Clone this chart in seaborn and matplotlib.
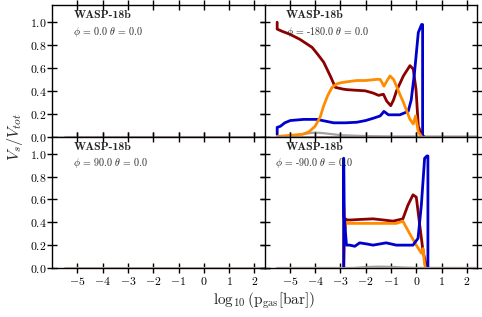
import matplotlib
matplotlib.use('Agg')
import matplotlib.pyplot as plt
import seaborn as sns
from matplotlib.ticker import FuncFormatter

# ---------------------------------------------------------------
# DATA (volume fractions)
# ---------------------------------------------------------------
planet = 'WASP-18b'
panel_phi = [0.0, -180.0, 90.0, -90.0]
panel_theta = [0.0, 0.0, 0.0, 0.0]

# empty panels: everything sits on zero
x_flat = [-5.5, 2.5]
y_flat = [0.0, 0.0]

# phi = -180
x_red_180 = [-5.5, -5.5, -5.3, -5.0, -4.6, -4.12, -3.9, -3.66, -3.4, -3.2, -2.9, -2.74,
             -2.4, -2.02, -1.7, -1.49, -1.3, -1.17, -1.01, -0.9, -0.78, -0.51, -0.25,
             -0.12, -0.01, 0.08, 0.21, 0.3]
y_red_180 = [1.0, 0.94, 0.92, 0.895, 0.85, 0.78, 0.72, 0.65, 0.53, 0.43, 0.415, 0.41,
             0.405, 0.40, 0.38, 0.36, 0.37, 0.31, 0.27, 0.32, 0.40, 0.53, 0.62,
             0.59, 0.41, 0.09, 0.02, 0.0]
x_orange_180 = [-5.5, -5.0, -4.5, -4.25, -4.0, -3.8, -3.66, -3.5, -3.33, -3.15, -3.0, -2.7,
                -2.35, -2.0, -1.57, -1.43, -1.35, -1.28, -1.15, -1.04, -0.9, -0.78, -0.65,
                -0.51, -0.25, -0.12, -0.03, 0.08, 0.21]
y_orange_180 = [0.0, 0.01, 0.02, 0.04, 0.09, 0.17, 0.27, 0.36, 0.43, 0.46, 0.47, 0.48,
                0.49, 0.49, 0.50, 0.50, 0.47, 0.44, 0.49, 0.53, 0.50, 0.44, 0.37,
                0.30, 0.15, 0.11, 0.18, 0.04, 0.0]
x_blue_180 = [-5.5, -5.5, -5.37, -5.2, -4.98, -4.45, -3.93, -3.6, -3.27, -2.8, -2.35, -2.0,
              -1.7, -1.43, -1.35, -1.28, -1.1, -0.65, -0.32, -0.2, -0.07, 0.08, 0.21,
              0.25, 0.25]
y_blue_180 = [0.02, 0.08, 0.09, 0.12, 0.14, 0.15, 0.15, 0.135, 0.12, 0.12, 0.125, 0.14,
              0.16, 0.18, 0.20, 0.22, 0.19, 0.19, 0.22, 0.32, 0.56, 0.91, 0.98,
              0.98, 0.0]
x_gray_180 = [-5.5, -5.0, -4.5, -4.2, -4.0, -3.7, -3.3, -3.0, -2.5, -2.0, -1.0, 2.5]
y_gray_180 = [0.0, 0.005, 0.02, 0.03, 0.035, 0.03, 0.02, 0.012, 0.008, 0.004, 0.001, 0.0]

# phi = -90
x_red_90 = [-2.87, -2.84, -2.8, -2.74, -2.6, -2.2, -1.71, -1.3, -0.92, -0.53, -0.33,
            -0.13, 0.0, 0.14, 0.27, 0.4, 0.45]
y_red_90 = [0.0, 0.3, 0.43, 0.42, 0.42, 0.425, 0.43, 0.42, 0.41, 0.43, 0.55,
            0.64, 0.62, 0.37, 0.14, 0.02, 0.0]
x_orange_90 = [-2.87, -2.87, -2.82, -2.78, -2.7, -2.4, -1.8, -1.2, -0.79, -0.53, -0.26,
               0.0, 0.2, 0.27, 0.33, 0.38]
y_orange_90 = [0.0, 0.55, 0.33, 0.40, 0.39, 0.39, 0.39, 0.39, 0.39, 0.41, 0.30,
               0.20, 0.13, 0.17, 0.03, 0.0]
x_blue_90 = [-2.87, -2.87, -2.85, -2.82, -2.76, -2.63, -2.43, -2.24, -1.95, -1.71, -1.45,
             -1.19, -0.79, -0.4, -0.13, 0.07, 0.2, 0.33, 0.42, 0.46, 0.46]
y_blue_90 = [0.0, 0.96, 0.45, 0.37, 0.2, 0.2, 0.19, 0.22, 0.21, 0.2, 0.21,
             0.22, 0.2, 0.2, 0.2, 0.26, 0.55, 0.96, 0.98, 0.98, 0.0]
x_gray_90 = [-5.5, -2.5, -2.0, -1.5, -1.0, -0.5, 0.0, 2.5]
y_gray_90 = [0.0, 0.0, 0.008, 0.012, 0.01, 0.004, 0.001, 0.0]

x_ticks = [-5, -4, -3, -2, -1, 0, 1, 2]
y_ticks = [0.0, 0.2, 0.4, 0.6, 0.8, 1.0]

# ---------------------------------------------------------------
# STYLE
# ---------------------------------------------------------------
sns.set_theme(style='ticks')
plt.rcParams.update({
    'font.family': ['cmr10', 'DejaVu Serif'],
    'mathtext.fontset': 'cm',
    'axes.unicode_minus': False,
    'axes.linewidth': 1.0,
    'axes.edgecolor': 'black',
    'xtick.color': 'black',
    'ytick.color': 'black',
})

RED, ORANGE, BLUE, GRAY = '#8b0000', '#ff8c00', '#0000cd', '#8c8c8c'
LW = 2.0

fig, axes = plt.subplots(2, 2, figsize=(4.82, 3.17), dpi=100, sharex=True, sharey=True)
fig.subplots_adjust(left=0.108, right=0.9896, top=0.984, bottom=0.1546,
                    wspace=0, hspace=0)


def draw(ax, x, y, color, lw=LW, alpha=1.0, z=2):
    sns.lineplot(x=x, y=y, ax=ax, color=color, lw=lw, alpha=alpha,
                 sort=False, estimator=None, zorder=z, legend=False)


# zero baselines in every panel (drawn above the spine so they show)
for ax in axes.flat:
    draw(ax, x_flat, y_flat, '#9a9a9a', lw=2.2, alpha=0.9, z=3.5)
    draw(ax, x_flat, y_flat, '#b08070', lw=1.2, alpha=0.45, z=3.6)

# phi = -180
ax = axes[0, 1]
draw(ax, x_gray_180, y_gray_180, GRAY, lw=1.6, alpha=0.8)
draw(ax, x_red_180, y_red_180, RED)
draw(ax, x_blue_180, y_blue_180, BLUE)
draw(ax, x_orange_180, y_orange_180, ORANGE, z=3)

# phi = -90
ax = axes[1, 1]
draw(ax, x_gray_90, y_gray_90, GRAY, lw=1.6, alpha=0.8)
draw(ax, x_red_90, y_red_90, RED)
draw(ax, x_orange_90, y_orange_90, ORANGE)
draw(ax, x_blue_90, y_blue_90, BLUE, z=3)

math_fmt = FuncFormatter(lambda v, p: f'${v:g}$')
ytick_fmt = FuncFormatter(lambda v, p: f'${v:.1f}$')

text_pos = [(0.10, 0.10), (0.10, 0.10), (0.10, 0.10), (0.10, 0.05)]
for i, ax in enumerate(axes.flat):
    ax.set_xlim(-6.0, 2.4)
    ax.set_ylim(0.0, 1.15)
    ax.set_xticks(x_ticks)
    ax.set_yticks(y_ticks)
    ax.xaxis.set_major_formatter(math_fmt)
    ax.yaxis.set_major_formatter(ytick_fmt)
    ax.tick_params(direction='inout', length=7, width=1.0, top=True, right=True,
                   labelsize=8.5)
    ax.tick_params(axis='x', pad=1.5)
    ax.tick_params(axis='y', pad=0.5)
    ax.set_xlabel('')
    ax.set_ylabel('')
    for s in ax.spines.values():
        s.set_visible(True)
        s.set_linewidth(1.0)
    tx, px = text_pos[i]
    ax.text(tx, 0.96, planet, transform=ax.transAxes, fontsize=8.5,
            family='cmb10', va='top', ha='left')
    ax.text(px, 0.85, rf'$\phi$ = {panel_phi[i]:.1f} $\theta$ = {panel_theta[i]:.1f}',
            transform=ax.transAxes, fontsize=7.2, va='top', ha='left')

# left/right panels share a boundary: hide the duplicated inner spines
axes[0, 0].spines['right'].set_visible(False)
axes[1, 0].spines['right'].set_visible(False)

fig.text(0.031, 0.568, r'$V_s/V_{tot}$', rotation=90, ha='center', va='center', fontsize=11.5)
fig.text(0.548, 0.052, r'$\log_{10}(\mathrm{p_{gas}[bar]})$', ha='center', va='center',
         fontsize=11)

fig.savefig('out.png', dpi=100)
